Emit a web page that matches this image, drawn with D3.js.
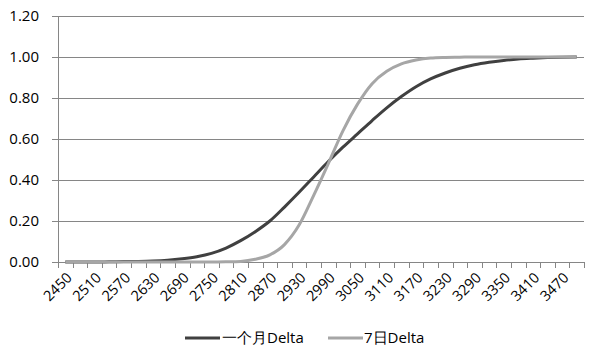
<!DOCTYPE html>
<html><head><meta charset="utf-8">
<script src="https://cdn.jsdelivr.net/npm/d3@7"></script>
<style>body{margin:0;background:#fff}svg{display:block}text{font-family:"Open Sans",sans-serif}</style>
</head><body><svg id="c" width="600" height="356"></svg>
<script>
const categories = [2450,2480,2510,2540,2570,2600,2630,2660,2690,2720,2750,2780,2810,2840,2870,2900,2930,2960,2990,3020,3050,3080,3110,3140,3170,3200,3230,3260,3290,3320,3350,3380,3410,3440,3470,3500];
const monthDelta = [0,0,0,0.001,0.002,0.003,0.005,0.009,0.016,0.026,0.042,0.068,0.104,0.148,0.200,0.268,0.340,0.415,0.490,0.560,0.625,0.690,0.752,0.807,0.855,0.893,0.922,0.945,0.962,0.974,0.983,0.990,0.994,0.997,0.999,1.0];
const weekDelta = [0,0,0,0,0,0,0,0,0,0,0,0.001,0.003,0.013,0.035,0.085,0.18,0.325,0.48,0.64,0.77,0.87,0.93,0.966,0.985,0.995,0.998,0.999,1,1,1,1,1,1,1,1];
const yTicks = [0,0.2,0.4,0.6,0.8,1.0,1.2];
const seriesNames = ["一个月Delta","7日Delta"];
const colors = ["#404040","#a6a6a6"];

const svg = d3.select("#c");
const L=58, R=584, T=16, B=262;
const x = d3.scaleBand().domain(categories).range([L,R]);
const y = d3.scaleLinear().domain([0,1.2]).range([B,T]);
const grid="#868686";

svg.append("g").selectAll("line").data(yTicks).join("line")
  .attr("x1",L-6).attr("x2",R).attr("y1",d=>Math.round(y(d))+0.5).attr("y2",d=>Math.round(y(d))+0.5)
  .attr("stroke",grid).attr("stroke-width",1);
svg.append("g").selectAll("text").data(yTicks).join("text")
  .attr("x",39).attr("y",d=>y(d)).attr("dy","0.35em").attr("text-anchor","end")
  .attr("font-size",15).attr("fill","#000").text(d=>d.toFixed(2));
svg.append("line").attr("x1",L+0.5).attr("x2",L+0.5).attr("y1",T).attr("y2",B).attr("stroke",grid);
const bounds = categories.map((c,i)=>x(c)).concat([R]);
svg.append("g").selectAll("line").data(bounds).join("line")
  .attr("x1",d=>Math.round(d)+0.5).attr("x2",d=>Math.round(d)+0.5).attr("y1",B).attr("y2",B+6)
  .attr("stroke",grid);
svg.append("g").selectAll("text").data(categories.filter((c,i)=>i%2===0)).join("text")
  .attr("transform",d=>`translate(${x(d)+x.bandwidth()/2+4},${B+13}) rotate(-45)`)
  .attr("text-anchor","end").attr("dy","0.35em").attr("font-size",14.5).attr("fill","#000").text(d=>d);

const line = d3.line().x((d,i)=>x(categories[i])+x.bandwidth()/2).y(d=>y(d)).curve(d3.curveMonotoneX);
[monthDelta,weekDelta].forEach((s,k)=>{
  svg.append("path").datum(s).attr("d",line).attr("fill","none")
    .attr("stroke",colors[k]).attr("stroke-width",3).attr("stroke-linejoin","round");
});
const leg=[{x:185,tx:222},{x:328,tx:364}];
leg.forEach((l,k)=>{
  svg.append("line").attr("x1",l.x).attr("x2",l.x+35).attr("y1",338).attr("y2",338)
    .attr("stroke",colors[k]).attr("stroke-width",3);
  svg.append("text").attr("x",l.tx).attr("y",338).attr("dy","0.35em").attr("font-size",15)
    .attr("fill","#000").text(seriesNames[k]);
});
</script></body></html>
